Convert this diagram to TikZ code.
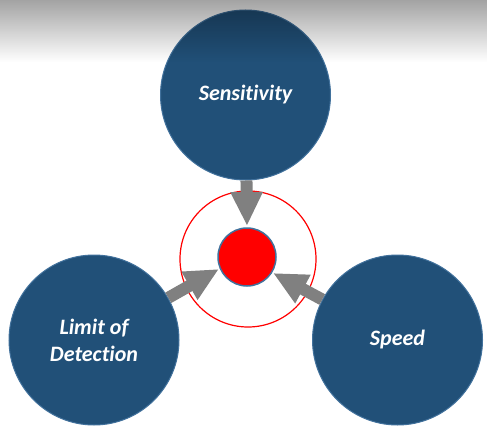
\documentclass[tikz,border=0pt]{standalone}
\usepackage{fontspec}
\setmainfont{Carlito}[Ligatures=NoCommon]
\usetikzlibrary{arrows.meta,fadings}
\definecolor{navy}{HTML}{215078}
\definecolor{rimblue}{HTML}{41719C}
\definecolor{arrgray}{HTML}{808080}
\begin{document}
\begin{tikzpicture}[x=1pt,y=-1pt,
  bigcirc/.style={circle,fill=navy,draw=rimblue,line width=1pt,minimum size=170pt,inner sep=0pt,
    text=white,font=\fontsize{22}{27}\selectfont\bfseries\itshape,align=center},
  feed/.style={draw=arrgray,line width=12pt,-{Triangle[length=34pt,width=30pt]}}]
\useasboundingbox (0,0) rectangle (487,433);
\fill[white] (0,0) rectangle (487,433);
\node[bigcirc] (sens) at (245.5,95) {Sensitivity};
\node[bigcirc] (lod) at (94,340) {Limit of\\Detection};
\node[bigcirc] (speed) at (397.5,340) {Speed};
\node[circle,draw=red,line width=1.2pt,minimum size=136pt,inner sep=0pt] (ring) at (248,259) {};
\node[circle,fill=red,draw=rimblue,line width=1.5pt,minimum size=58pt,inner sep=0pt] (core) at (247,257) {};
\coordinate (tipT) at (247,226);
\coordinate (tipL) at (219,269);
\coordinate (tipR) at (273,273);
\draw[feed] (sens) -- (tipT);
\draw[feed] (lod) -- (tipL);
\draw[feed] (speed) -- (tipR);
\fill[black,fill opacity=0.36,path fading=south] (0,0) rectangle (487,62);
\end{tikzpicture}
\end{document}
